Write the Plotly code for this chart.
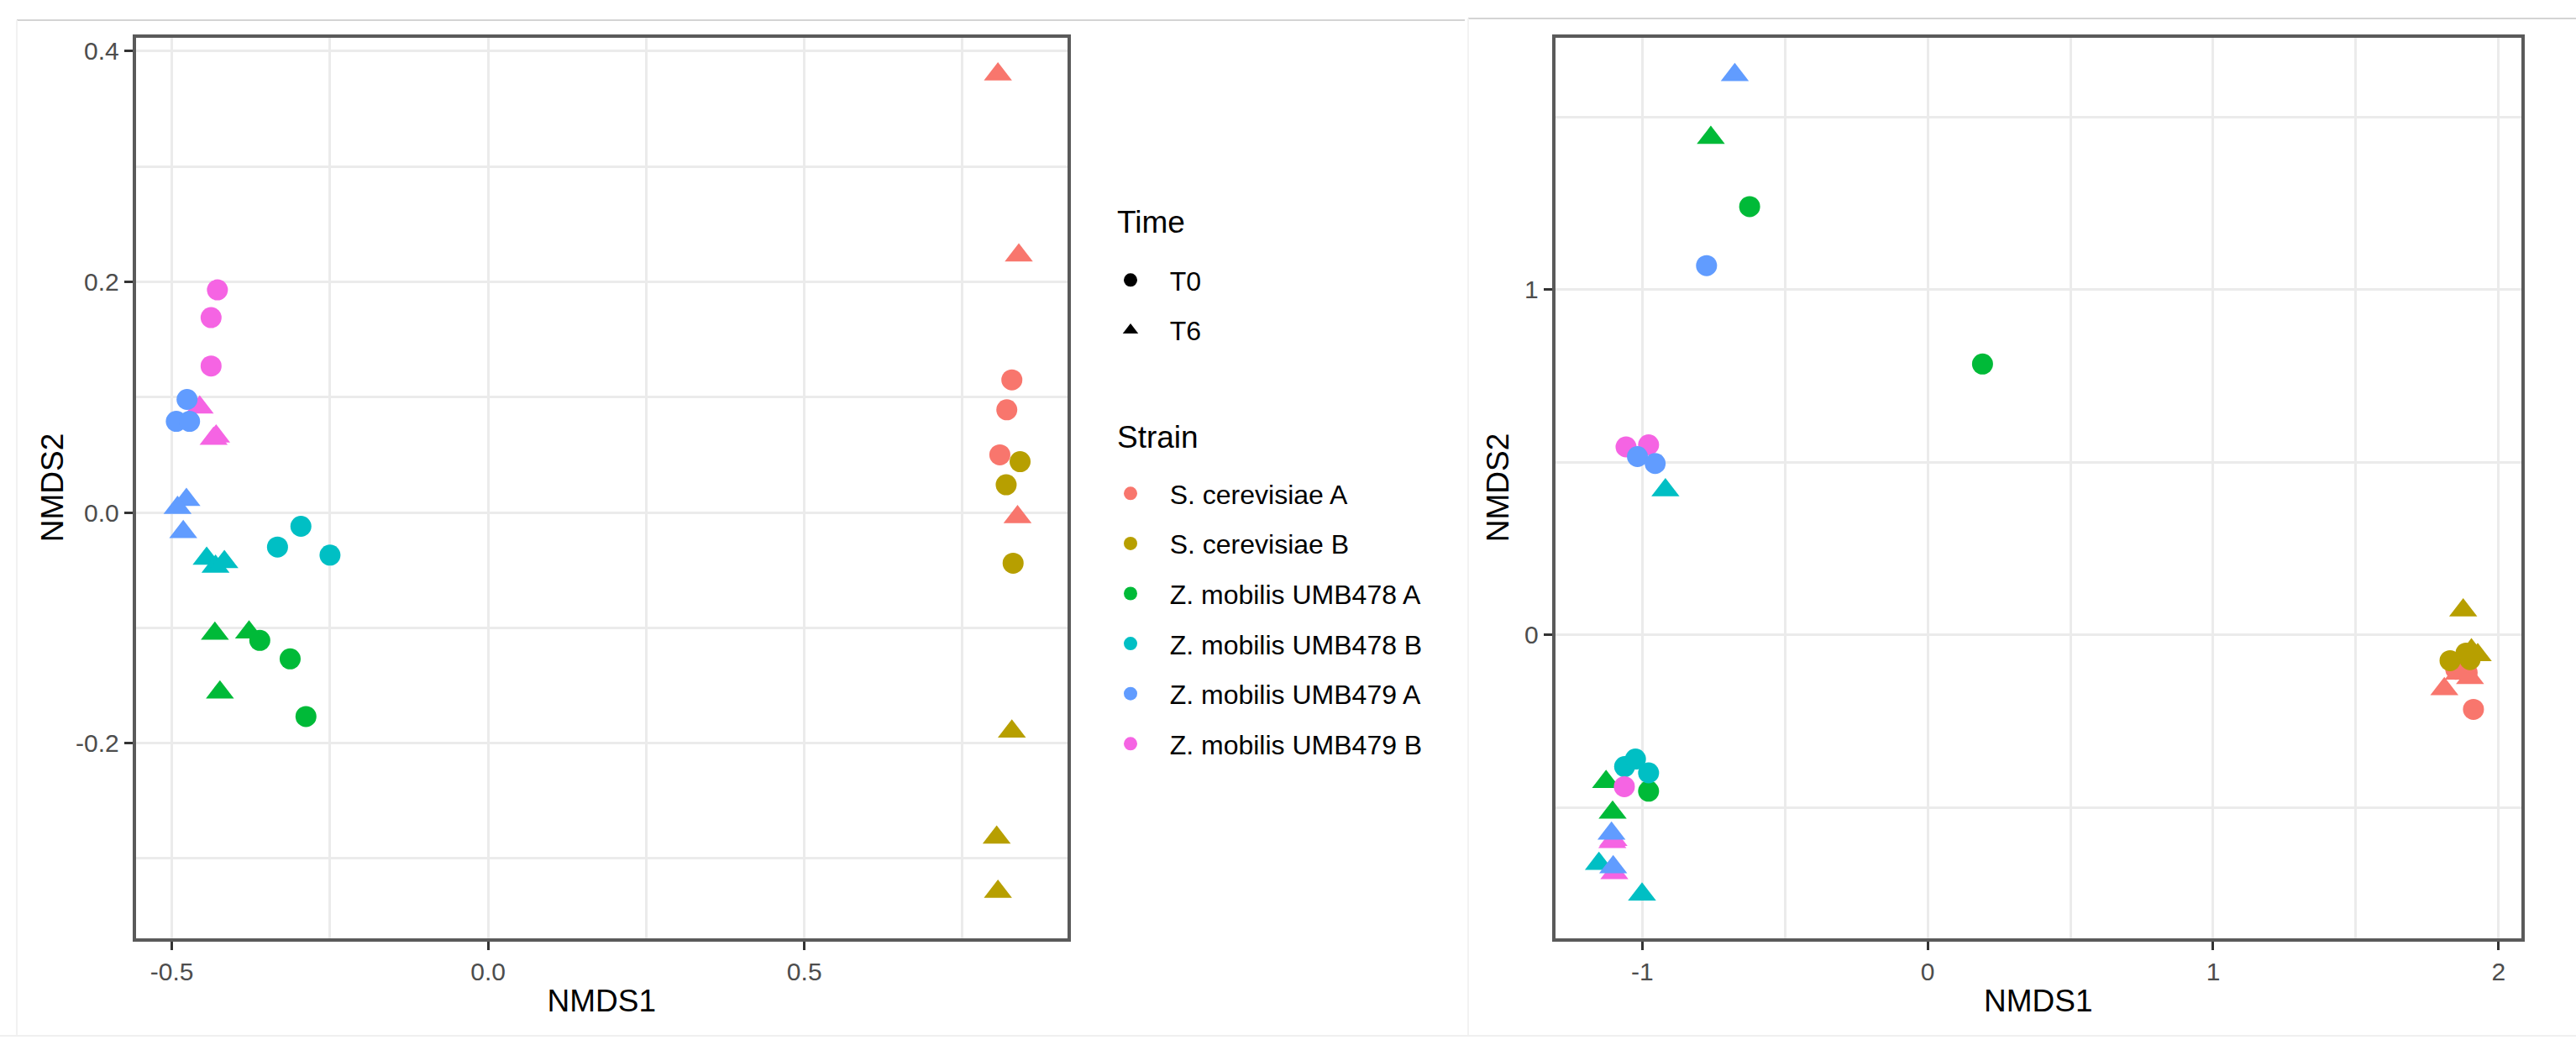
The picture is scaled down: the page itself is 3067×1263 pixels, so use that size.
import plotly.graph_objects as go

W, H = 3067, 1263

# ---------------- categories / styling lists ----------------
strains = ["S. cerevisiae A", "S. cerevisiae B", "Z. mobilis UMB478 A",
           "Z. mobilis UMB478 B", "Z. mobilis UMB479 A", "Z. mobilis UMB479 B"]
strain_colors = ["#F8766D", "#B79F00", "#00BA38", "#00BFC4", "#619CFF", "#F564E3"]
times = ["T0", "T6"]
time_symbols = ["circle", "triangle-up"]
legend_titles = ["Time", "Strain"]
draw_order = ["S. cerevisiae A", "S. cerevisiae B", "Z. mobilis UMB478 A",
              "Z. mobilis UMB478 B", "Z. mobilis UMB479 B", "Z. mobilis UMB479 A"]

# ---------------- left panel data (long format) ----------------
left_strain = (["S. cerevisiae A"] * 6 + ["S. cerevisiae B"] * 6 + ["Z. mobilis UMB478 A"] * 6 +
               ["Z. mobilis UMB478 B"] * 6 + ["Z. mobilis UMB479 A"] * 6 + ["Z. mobilis UMB479 B"] * 6)
left_time = (["T0"] * 3 + ["T6"] * 3) * 6
left_x = [0.828, 0.820, 0.809, 0.806, 0.839, 0.837,
          0.841, 0.819, 0.830, 0.828, 0.804, 0.806,
          -0.361, -0.313, -0.288, -0.432, -0.378, -0.424,
          -0.296, -0.333, -0.250, -0.445, -0.431, -0.417,
          -0.476, -0.493, -0.472, -0.477, -0.491, -0.482,
          -0.428, -0.438, -0.438, -0.456, -0.430, -0.434]
left_y = [0.115, 0.089, 0.050, 0.380, 0.223, -0.004,
          0.044, 0.024, -0.044, -0.190, -0.282, -0.329,
          -0.111, -0.127, -0.177, -0.105, -0.104, -0.156,
          -0.012, -0.030, -0.037, -0.040, -0.047, -0.043,
          0.098, 0.079, 0.079, 0.011, 0.004, -0.017,
          0.193, 0.169, 0.127, 0.091, 0.066, 0.064]

# ---------------- right panel data (long format) ----------------
right_strain = list(left_strain)
right_time = list(left_time)
right_x = [1.912, 1.850, 1.890, 1.810, 1.900, 1.860,
           1.830, 1.886, 1.900, 1.876, 1.927, 1.905,
           -0.624, 0.192, -0.978, -0.760, -1.127, -1.104,
           -1.062, -1.024, -0.978, -0.919, -1.152, -1.001,
           -0.775, -1.017, -0.955, -0.676, -1.108, -1.102,
           -1.057, -0.978, -1.063, -1.101, -1.098, -1.105]
right_y = [-0.216, -0.100, -0.110, -0.157, -0.125, -0.112,
           -0.075, -0.053, -0.072, 0.071, -0.059, -0.045,
           1.240, 0.784, -0.453, 1.439, -0.426, -0.515,
           -0.382, -0.360, -0.400, 0.419, -0.663, -0.752,
           1.069, 0.516, 0.496, 1.621, -0.576, -0.673,
           0.544, 0.550, -0.440, -0.594, -0.690, -0.600]

# ---------------- axis ticks ----------------
left_xticks = [-0.5, 0.0, 0.5]
left_xticklabels = ["-0.5", "0.0", "0.5"]
left_yticks = [-0.2, 0.0, 0.2, 0.4]
left_yticklabels = ["-0.2", "0.0", "0.2", "0.4"]
right_xticks = [-1, 0, 1, 2]
right_xticklabels = ["-1", "0", "1", "2"]
right_yticks = [0, 1]
right_yticklabels = ["0", "1"]

FONT = "Liberation Sans, Arial, sans-serif"
MS_CIRCLE = 25
MS_TRI = 29
PAD = "\u00a0\u00a0\u00a0"


def px_x(p):
    return p / W


def px_y(p):
    return 1 - p / H


fig = go.Figure()

color_of = dict(zip(strains, strain_colors))
symbol_of = dict(zip(times, time_symbols))
size_of = {"T0": MS_CIRCLE, "T6": MS_TRI}


def add_panel(sx, st, xs, ys, xa, ya):
    for s in draw_order:
        idx = [i for i, v in enumerate(sx) if v == s]
        fig.add_trace(go.Scatter(
            x=[xs[i] for i in idx], y=[ys[i] for i in idx],
            mode="markers", showlegend=False, xaxis=xa, yaxis=ya,
            marker=dict(color=color_of[s], opacity=1,
                        symbol=[symbol_of[st[i]] for i in idx],
                        size=[size_of[st[i]] for i in idx],
                        line=dict(width=0)),
            hoverinfo="skip"))


add_panel(left_strain, left_time, left_x, left_y, "x", "y")
add_panel(right_strain, right_time, right_x, right_y, "x2", "y2")

# legend entries
for t, sym in zip(times, time_symbols):
    fig.add_trace(go.Scatter(x=[None], y=[None], mode="markers", name=PAD + t,
                             legend="legend", legendgroup="time_" + t,
                             marker=dict(color="black", symbol=sym, size=26, opacity=1)))
for s, c in zip(strains, strain_colors):
    fig.add_trace(go.Scatter(x=[None], y=[None], mode="markers", name=PAD + s,
                             legend="legend2", legendgroup="strain_" + s,
                             marker=dict(color=c, symbol="circle", size=26, opacity=1)))

axis_common = dict(
    showline=True, mirror=True, linecolor="#5a5a5a", linewidth=4,
    showgrid=True, gridcolor="#EBEBEB", gridwidth=3, zeroline=False,
    ticks="outside", ticklen=10, tickwidth=3, tickcolor="#333333",
    tickfont=dict(family=FONT, size=30, color="#4D4D4D"),
    title_font=dict(family=FONT, size=37, color="black"),
)

ydom = [px_y(1116.5), px_y(44.5)]

legend_common = dict(xanchor="left", yanchor="top",
                     font=dict(family=FONT, size=32, color="black"),
                     itemsizing="trace", traceorder="grouped", tracegroupgap=15,
                     bgcolor="rgba(0,0,0,0)")

fig.update_layout(
    width=W, height=H, margin=dict(l=0, r=0, t=0, b=0),
    paper_bgcolor="white", plot_bgcolor="white",
    font=dict(family=FONT, color="black"),
    xaxis=dict(domain=[px_x(161.7), px_x(1271)], range=[-0.557, 0.916],
               tickvals=left_xticks, ticktext=left_xticklabels,
               title=dict(text="NMDS1", standoff=8),
               minor=dict(dtick=0.25, tick0=0, showgrid=True, gridcolor="#EBEBEB", gridwidth=2.5),
               anchor="y", **axis_common),
    yaxis=dict(domain=ydom, range=[-0.369, 0.412],
               tickvals=left_yticks, ticktext=left_yticklabels,
               title=dict(text="NMDS2", standoff=4),
               minor=dict(dtick=0.1, tick0=0, showgrid=True, gridcolor="#EBEBEB", gridwidth=2.5),
               anchor="x", **axis_common),
    xaxis2=dict(domain=[px_x(1851.7), px_x(3002)], range=[-1.305, 2.08],
                tickvals=right_xticks, ticktext=right_xticklabels,
                title=dict(text="NMDS1", standoff=8),
                minor=dict(dtick=0.5, tick0=0, showgrid=True, gridcolor="#EBEBEB", gridwidth=2.5),
                anchor="y2", **axis_common),
    yaxis2=dict(domain=ydom, range=[-0.878, 1.730],
                tickvals=right_yticks, ticktext=right_yticklabels,
                title=dict(text="NMDS2", standoff=8),
                minor=dict(dtick=0.5, tick0=0, showgrid=True, gridcolor="#EBEBEB", gridwidth=2.5),
                anchor="x2", **axis_common),
    legend=dict(x=px_x(1326), y=px_y(306), **legend_common),
    legend2=dict(x=px_x(1326), y=px_y(560), **legend_common),
    annotations=[
        dict(text=legend_titles[0], xref="paper", yref="paper", x=px_x(1328), y=px_y(265),
             xanchor="left", yanchor="middle", showarrow=False,
             font=dict(family=FONT, size=37, color="black")),
        dict(text=legend_titles[1], xref="paper", yref="paper", x=px_x(1328), y=px_y(520),
             xanchor="left", yanchor="middle", showarrow=False,
             font=dict(family=FONT, size=37, color="black")),
    ],
    shapes=[
        dict(type="line", xref="paper", yref="paper", x0=px_x(20), x1=px_x(1744),
             y0=px_y(24), y1=px_y(24), line=dict(color="#d4d4d4", width=2)),
        dict(type="line", xref="paper", yref="paper", x0=px_x(1748), x1=1,
             y0=px_y(22), y1=px_y(22), line=dict(color="#d4d4d4", width=2)),
        dict(type="line", xref="paper", yref="paper", x0=px_x(20), x1=px_x(20),
             y0=px_y(24), y1=px_y(1232), line=dict(color="#f2f2f2", width=2)),
        dict(type="line", xref="paper", yref="paper", x0=px_x(1748), x1=px_x(1748),
             y0=px_y(22), y1=px_y(1233), line=dict(color="#f2f2f2", width=2)),
        dict(type="line", xref="paper", yref="paper", x0=0, x1=1,
             y0=px_y(1233), y1=px_y(1233), line=dict(color="#f0f0f0", width=2)),
    ],
)

fig.write_html("out.html", config={"displayModeBar": False},
               post_script="document.body.style.margin='0';document.body.style.overflow='hidden';")
